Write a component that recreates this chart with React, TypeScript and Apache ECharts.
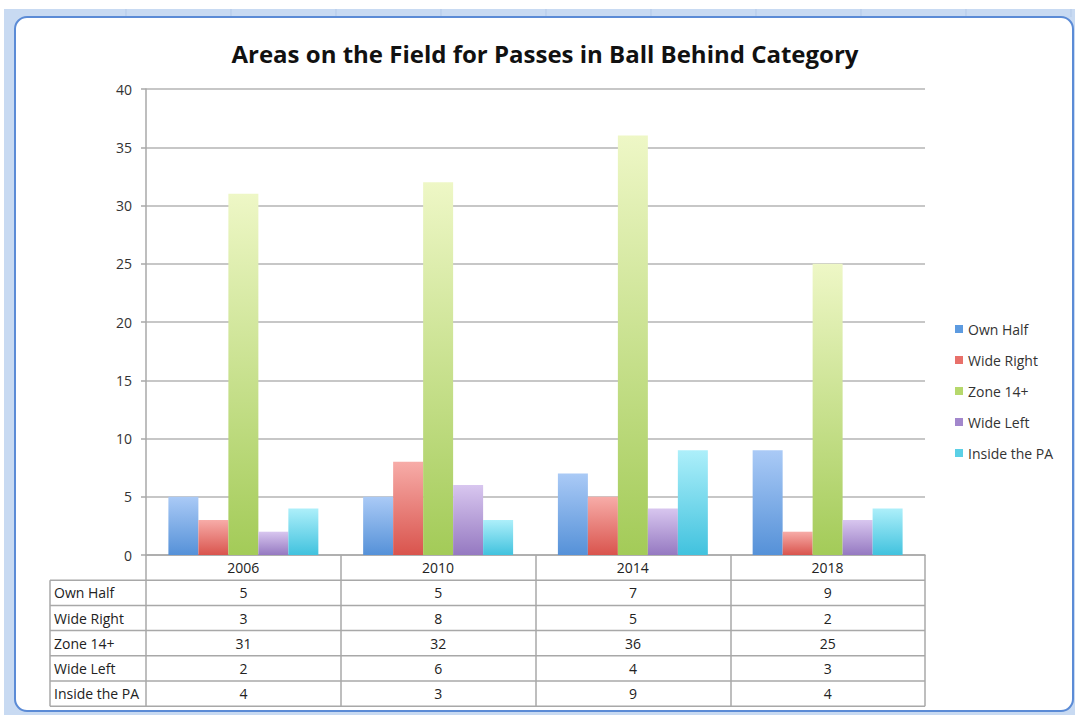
import React, { useEffect, useRef } from "react";
import * as echarts from "echarts";

const titleText = "Areas on the Field for Passes in Ball Behind Category";
const categories = ["2006", "2010", "2014", "2018"];
const seriesNames = ["Own Half", "Wide Right", "Zone 14+", "Wide Left", "Inside the PA"];
const ownHalf = [5, 5, 7, 9];
const wideRight = [3, 8, 5, 2];
const zone14 = [31, 32, 36, 25];
const wideLeft = [2, 6, 4, 3];
const insidePA = [4, 3, 9, 4];
const seriesValues = [ownHalf, wideRight, zone14, wideLeft, insidePA];
const yMin = 0;
const yMax = 40;
const yStep = 5;

const gradTop = ["#aacaf6", "#f7aca8", "#eef7c6", "#d8c6ef", "#adeffa"];
const gradBottom = ["#5591d8", "#d9544d", "#a3cb58", "#9579c1", "#41c2de"];
const legendColors = ["#5d9be0", "#e8706a", "#b6d86c", "#a287cc", "#5bd0e6"];

const W = 1078;
const H = 718;
const gridLeft = 146;
const gridRight = 925;
const gridTop = 89;
const gridBottom = 555;
const tableLeft = 50;
const rowH = 25.2;
const font = "'Open Sans', Lato, sans-serif";
const fs = 14;

export default function App() {
  const ref = useRef<HTMLDivElement>(null);
  useEffect(() => {
    if (!ref.current) return;
    const chart = echarts.init(ref.current, null, { renderer: "svg" });
    const colW = (gridRight - gridLeft) / categories.length;
    const firstRowTop = gridBottom + rowH;
    const tableBottom = gridBottom + rowH * (seriesNames.length + 1);
    const lineColor = "#a8a8a8";

    const graphics: any[] = [];
    graphics.push({
      type: "rect",
      z: -100,
      shape: { x: 4, y: 9, width: 1071, height: 706 },
      style: { fill: "#c8daf2" },
      silent: true,
    });
    for (let k = 0; k < 10; k++) {
      const x = 126 + k * 105;
      graphics.push({
        type: "line",
        z: -99,
        shape: { x1: x, y1: 9, x2: x, y2: 17 },
        style: { stroke: "#b3c9e8", lineWidth: 1 },
        silent: true,
      });
    }
    graphics.push({
      type: "rect",
      z: -98,
      shape: { x: 15, y: 17, width: 1058, height: 694, r: 12 },
      style: { fill: "#ffffff", stroke: "#5b8bd6", lineWidth: 2 },
      silent: true,
    });
    graphics.push({
      type: "text",
      z: 10,
      x: 545,
      y: 53,
      style: {
        text: titleText,
        fill: "#111",
        font: `bold 24px ${font}`,
        textAlign: "center",
        textVerticalAlign: "middle",
      },
    });
    for (let i = 0; i <= seriesNames.length; i++) {
      const y = firstRowTop + i * rowH;
      graphics.push({
        type: "line",
        z: 10,
        shape: { x1: tableLeft, y1: y, x2: gridRight, y2: y },
        style: { stroke: lineColor, lineWidth: 1.5 },
      });
    }
    graphics.push({
      type: "line",
      z: 10,
      shape: { x1: tableLeft, y1: firstRowTop, x2: tableLeft, y2: tableBottom },
      style: { stroke: lineColor, lineWidth: 1.5 },
    });
    seriesNames.forEach((name, i) => {
      const yc = firstRowTop + (i + 0.5) * rowH;
      graphics.push({
        type: "text",
        z: 10,
        x: tableLeft + 4,
        y: yc,
        style: {
          text: name,
          fill: "#222",
          font: `${fs}px ${font}`,
          textAlign: "left",
          textVerticalAlign: "middle",
        },
      });
      seriesValues[i].forEach((v, j) => {
        graphics.push({
          type: "text",
          z: 10,
          x: gridLeft + (j + 0.5) * colW,
          y: yc,
          style: {
            text: String(v),
            fill: "#222",
            font: `${fs}px ${font}`,
            textAlign: "center",
            textVerticalAlign: "middle",
          },
        });
      });
    });

    chart.setOption({
      animation: false,
      backgroundColor: "#ffffff",
      grid: {
        left: gridLeft,
        right: W - gridRight,
        top: gridTop,
        bottom: H - gridBottom,
        containLabel: false,
      },
      legend: {
        orient: "vertical",
        left: 950,
        top: 316,
        icon: "rect",
        itemWidth: 8,
        itemHeight: 8,
        itemGap: 15,
        textStyle: { fontSize: fs, color: "#333", fontFamily: font, lineHeight: 16 },
        data: seriesNames.map((n, i) => ({ name: n, itemStyle: { color: legendColors[i] } })),
      },
      xAxis: {
        type: "category",
        data: categories,
        axisLine: { lineStyle: { color: lineColor, width: 1.5 } },
        axisTick: {
          show: true,
          interval: 0,
          length: tableBottom - gridBottom,
          lineStyle: { color: lineColor, width: 1.5 },
        },
        axisLabel: { margin: 5, fontSize: fs, color: "#222", fontFamily: font },
      },
      yAxis: {
        type: "value",
        min: yMin,
        max: yMax,
        interval: yStep,
        axisLine: { show: true, lineStyle: { color: lineColor, width: 1.5 } },
        axisTick: { show: true, length: 5, lineStyle: { color: lineColor, width: 1.5 } },
        axisLabel: { margin: 14, fontSize: fs, color: "#333", fontFamily: font },
        splitLine: { lineStyle: { color: "#b4b4b4", width: 1.5 } },
      },
      series: seriesNames.map((n, i) => ({
        name: n,
        type: "bar",
        data: seriesValues[i],
        barGap: "0%",
        barCategoryGap: "23%",
        itemStyle: {
          color: new echarts.graphic.LinearGradient(0, 0, 0, 1, [
            { offset: 0, color: gradTop[i] },
            { offset: 1, color: gradBottom[i] },
          ]),
        },
      })),
      graphic: graphics,
    });
    return () => chart.dispose();
  }, []);
  return (
    <div
      ref={ref}
      style={{ position: "fixed", left: 0, top: 0, width: W, height: H }}
    />
  );
}
